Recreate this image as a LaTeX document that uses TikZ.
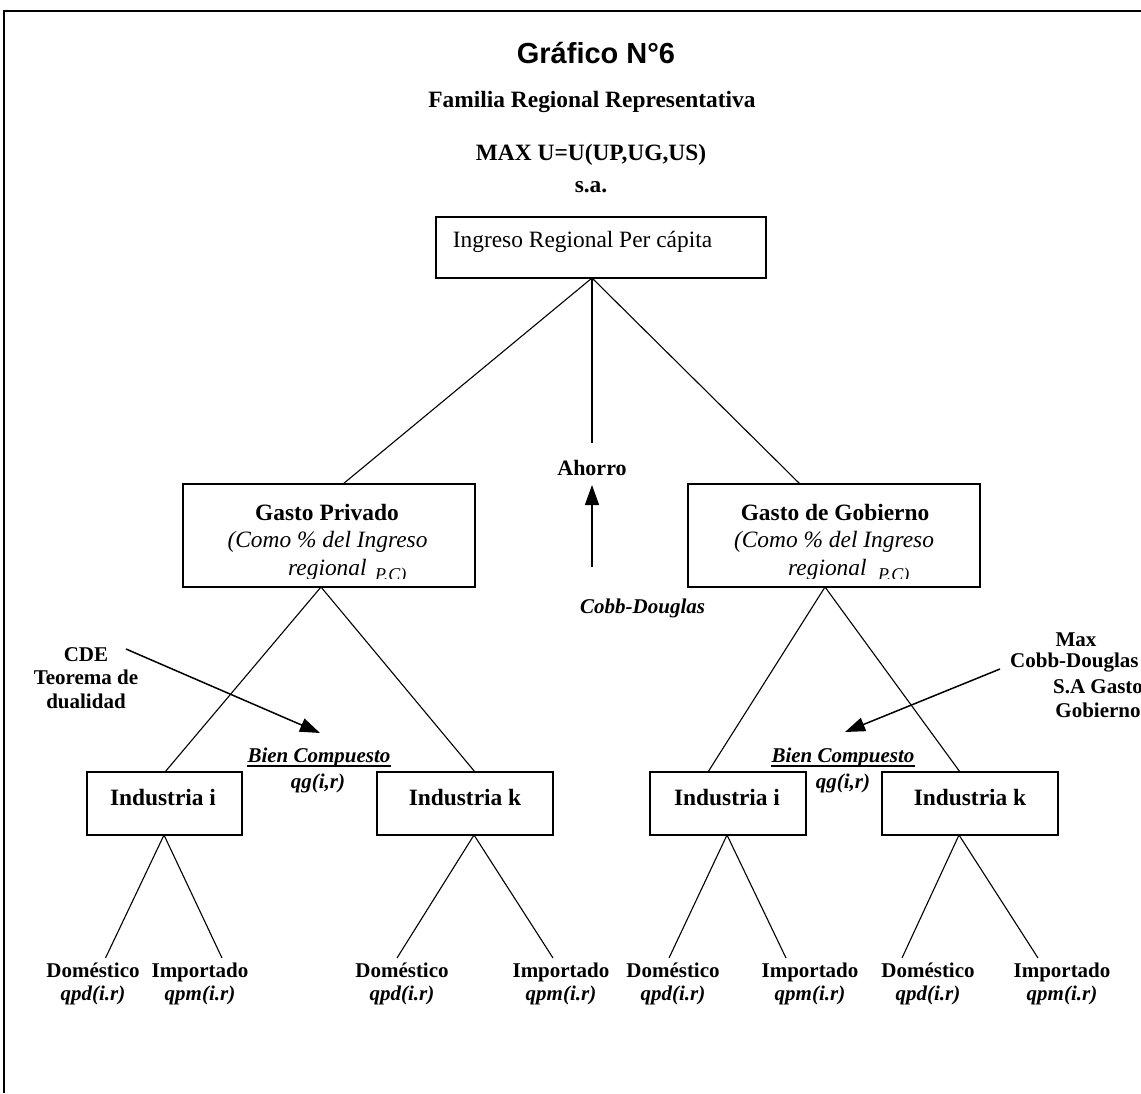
\documentclass[tikz,border=0pt]{standalone}
\usepackage{fontspec}
\setmainfont{Liberation Serif}
\newfontfamily\arialf{Liberation Sans}
\usetikzlibrary{arrows.meta,calc}
\begin{document}
\begin{tikzpicture}[x=1pt,y=-1pt,
  box/.style={draw,line width=1.3pt,inner sep=0pt},
  conn/.style={line width=1.1pt},
  arr/.style={line width=1.5pt,-{Triangle[length=20pt,width=14pt]}},
  rm/.style={inner sep=0pt,font=\fontsize{23.4}{27}\selectfont},
  bf/.style={inner sep=0pt,font=\fontsize{23.4}{27}\selectfont\bfseries},
  it/.style={inner sep=0pt,font=\fontsize{23.4}{27}\selectfont\itshape},
  itsm/.style={inner sep=0pt,font=\fontsize{18}{21}\selectfont\itshape},
  lab/.style={inner sep=0pt,align=center,font=\fontsize{21}{23.5}\selectfont\bfseries},
  bit/.style={inner sep=0pt,font=\fontsize{21}{24}\selectfont\bfseries\itshape},
]
\useasboundingbox (0,0) rectangle (1141,1093);
\fill[white] (0,0) rectangle (1141,1093);
\draw[line width=2pt] (1141,11) -- (4,11) -- (4,1093);

% titles
\node[inner sep=0pt,font=\arialf\fontsize{29}{33}\selectfont\bfseries] (title) at (596,53) {Gráfico N°6};
\node[bf] (fam) at (592,102) {Familia Regional Representativa};
\node[bf] (max) at (591,155) {MAX U=U(UP,UG,US)};
\node[bf] (sa) at (591,187) {s.a.};

% top box
\node[box,minimum width=330pt,minimum height=61pt] (ing) at (601,247.5) {};
\node[rm] (ingt) at (582.5,242) {Ingreso Regional Per cápita};
\coordinate (ia) at (592,278);

% second level boxes
\node[box,minimum width=292pt,minimum height=103pt] (gp) at (329,535.5) {};
\node[box,minimum width=292pt,minimum height=103pt] (gg) at (834,535.5) {};
\coordinate (gpt) at (343,484);
\coordinate (ggt) at (800,484);
\coordinate (gpb) at (321,587);
\coordinate (ggb) at (825,587);

\node[bf] (gpt1) at (327,512) {Gasto Privado};
\node[it] (gpt2) at (327.5,542) {(Como \% del Ingreso};
\node[bf] (ggt1) at (835,512) {Gasto de Gobierno};
\node[it] (ggt2) at (834,542) {(Como \% del Ingreso};
\begin{scope}
  \clip (184,485) rectangle (474,578.5);
  \node[it,anchor=base west] (gpt3) at (288,575) {regional};
  \node[itsm,anchor=base west] (gpt4) at (375,580) {P.C)};
\end{scope}
\begin{scope}
  \clip (689,485) rectangle (979,578.5);
  \node[it,anchor=base west] (ggt3) at (788,575) {regional};
  \node[itsm,anchor=base west] (ggt4) at (878,580) {P.C)};
\end{scope}

% first level connectors
\draw[conn] (ia) -- (gpt);
\draw[conn] (ia) -- (ggt);
\coordinate (ahl) at (592,443);
\draw[conn] (ia) -- (ahl);

% Ahorro
\node[inner sep=0pt,font=\fontsize{22}{25}\selectfont\bfseries] (aho) at (592,468) {Ahorro};
\coordinate (ahs) at (592,567);
\draw[arr] (ahs) -- (aho.south |- 0,485);
\node[bit,anchor=west] (cd) at (580,608) {Cobb-Douglas};

% industry boxes
\node[box,minimum width=155pt,minimum height=63pt] (ii1) at (164.5,803.5) {};
\node[box,minimum width=176pt,minimum height=63pt] (ik1) at (465,803.5) {};
\node[box,minimum width=156pt,minimum height=63pt] (ii2) at (728,803.5) {};
\node[box,minimum width=176pt,minimum height=63pt] (ik2) at (970,803.5) {};
\node[bf] (ii1t) at (163,798) {Industria i};
\node[bf] (ik1t) at (465,798) {Industria k};
\node[bf] (ii2t) at (727,798) {Industria i};
\node[bf] (ik2t) at (970,798) {Industria k};

\coordinate (ii1t0) at (165,772);
\coordinate (ik1t0) at (475,772);
\coordinate (ii2t0) at (708,772);
\coordinate (ik2t0) at (960,772);
\draw[conn] (gpb) -- (ii1t0);
\draw[conn] (gpb) -- (ik1t0);
\draw[conn] (ggb) -- (ii2t0);
\draw[conn] (ggb) -- (ik2t0);

% Bien compuesto
\node[bit,anchor=base] (bc1) at (319,762) {Bien Compuesto};
\draw[line width=1.4pt] ($(bc1.base west)+(0,4)$) -- ($(bc1.base east)+(0,4)$);
\node[bit] (qg1) at (318,783) {qg(i,r)};
\node[bit,anchor=base] (bc2) at (843,762) {Bien Compuesto};
\draw[line width=1.4pt] ($(bc2.base west)+(0,4)$) -- ($(bc2.base east)+(0,4)$);
\node[bit] (qg2) at (843,783) {qg(i,r)};

% CDE annotation
\node[lab] (cde) at (86,678) {CDE\\Teorema de\\dualidad};
\coordinate (cdes) at (126,649);
\coordinate (cdee) at (320,733);
\draw[arr] (cdes) -- (cdee);

% Max annotation
\node[lab] (mx1) at (1076,640) {Max};
\node[lab,anchor=west] (mx2) at (1010,663) {Cobb-Douglas};
\node[lab] (mx3) at (1098,698.5) {S.A Gasto\\Gobierno};
\coordinate (mxs) at (1000,669);
\coordinate (mxe) at (845,732);
\draw[arr] (mxs) -- (mxe);

% bottom connectors
\coordinate (a1) at (164,835);
\coordinate (a2) at (474,835);
\coordinate (a3) at (727,835);
\coordinate (a4) at (959,835);
\coordinate (e1) at (105.5,958);
\coordinate (e2) at (222,958);
\coordinate (e3) at (397,958);
\coordinate (e4) at (553,958);
\coordinate (e5) at (669,958);
\coordinate (e6) at (786,958);
\coordinate (e7) at (902,958);
\coordinate (e8) at (1038,958);
\draw[conn] (a1) -- (e1);
\draw[conn] (a1) -- (e2);
\draw[conn] (a2) -- (e3);
\draw[conn] (a2) -- (e4);
\draw[conn] (a3) -- (e5);
\draw[conn] (a3) -- (e6);
\draw[conn] (a4) -- (e7);
\draw[conn] (a4) -- (e8);

% bottom labels
\node[lab] (d1) at (93,984) {Doméstico\\\textit{qpd(i.r)}};
\node[lab] (m1) at (200,984) {Importado\\\textit{qpm(i.r)}};
\node[lab] (d2) at (402,984) {Doméstico\\\textit{qpd(i.r)}};
\node[lab] (m2) at (561,984) {Importado\\\textit{qpm(i.r)}};
\node[lab] (d3) at (673,984) {Doméstico\\\textit{qpd(i.r)}};
\node[lab] (m3) at (810,984) {Importado\\\textit{qpm(i.r)}};
\node[lab] (d4) at (928,984) {Doméstico\\\textit{qpd(i.r)}};
\node[lab] (m4) at (1062,984) {Importado\\\textit{qpm(i.r)}};
\end{tikzpicture}
\end{document}
